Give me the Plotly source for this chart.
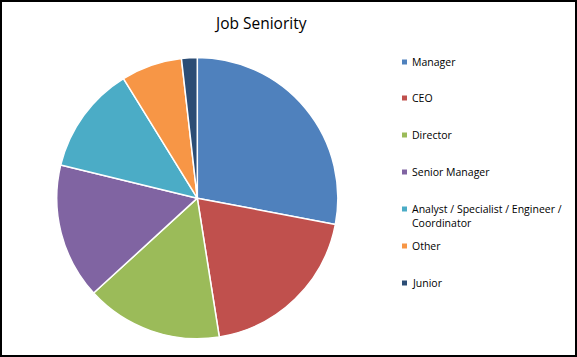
import plotly.graph_objects as go

labels = ["Manager", "CEO", "Director", "Senior Manager",
          "Analyst / Specialist / Engineer / Coordinator", "Other", "Junior"]
values = [28.0, 19.5, 15.7, 15.6, 12.4, 7.0, 1.8]
colors = ["#4F81BD", "#C0504D", "#9BBB59", "#8064A2", "#4BACC6", "#F79646", "#2C4D75"]
legend_text = ["Manager", "CEO", "Director", "Senior Manager",
               "Analyst / Specialist / Engineer /<br>Coordinator", "Other", "Junior"]

W, H = 577, 357
FONT = "'Open Sans', 'Liberation Sans', sans-serif"

fig = go.Figure(go.Pie(
    labels=labels, values=values, sort=False, direction="clockwise", rotation=0,
    marker=dict(colors=colors, line=dict(color="white", width=1.5)),
    textinfo="none", hoverinfo="label+percent", showlegend=False,
    domain=dict(x=[56.6 / W, 338.0 / W], y=[1 - 338.7 / H, 1 - 57.6 / H]),
))

legend_y = [62, 98, 135, 172, 216.5, 246, 283]
square_y = [62, 98, 135, 172, 209, 246, 283]
shapes = [dict(type="rect", xref="paper", yref="paper", x0=0, x1=1, y0=0, y1=1,
               line=dict(color="black", width=4), fillcolor="rgba(0,0,0,0)", layer="above")]
annotations = [dict(text="Job Seniority", x=260 / W, y=1 - 22.5 / H, xref="paper", yref="paper",
                    xanchor="center", yanchor="middle", showarrow=False,
                    font=dict(family=FONT, size=15.5, color="#000000"))]
for txt, col, ty, sy in zip(legend_text, colors, legend_y, square_y):
    shapes.append(dict(type="rect", xref="paper", yref="paper",
                       x0=402 / W, x1=407 / W, y0=1 - (sy + 2.5) / H, y1=1 - (sy - 2.5) / H,
                       fillcolor=col, line=dict(width=0)))
    annotations.append(dict(text=txt, x=410 / W, y=1 - ty / H, xref="paper", yref="paper",
                            xanchor="left", yanchor="middle", align="left", showarrow=False,
                            font=dict(family=FONT, size=10.5, color="#000000")))

fig.update_layout(width=W, height=H, margin=dict(l=0, r=0, t=0, b=0),
                  paper_bgcolor="white", plot_bgcolor="white",
                  shapes=shapes, annotations=annotations)
fig.write_html("out.html")
